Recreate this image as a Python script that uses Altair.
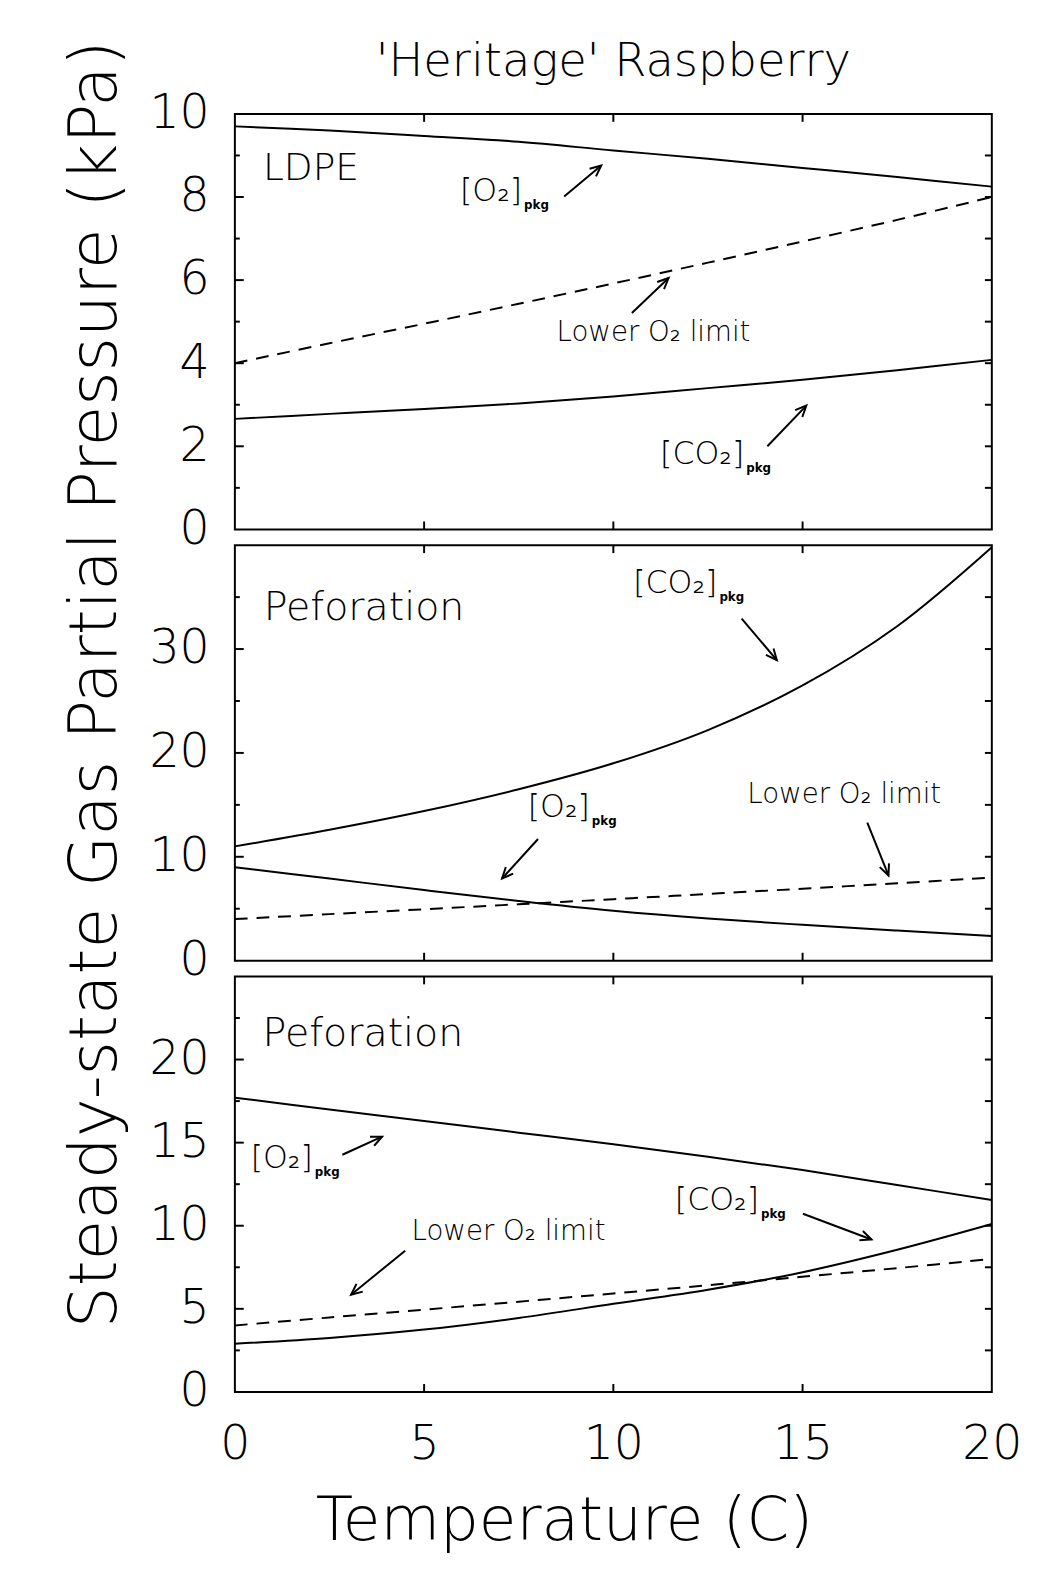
import math
import altair as alt
import pandas as pd

FONT = "DejaVu Sans"
FW = 200
W, H = 767, 421

# ---------------- data ----------------
temps = [0, 2.5, 5, 7.5, 10, 12.5, 15, 17.5, 20]
lower_o2_limit = [4.0, 4.48, 4.95, 5.43, 5.92, 6.42, 6.93, 7.45, 8.0]

ldpe_o2 = [9.7, 9.6, 9.47, 9.33, 9.12, 8.92, 8.7, 8.48, 8.25]
ldpe_co2 = [2.66, 2.78, 2.9, 3.03, 3.2, 3.4, 3.6, 3.83, 4.08]

perf1_o2 = [9.0, 7.9, 6.8, 5.75, 4.8, 4.05, 3.45, 2.9, 2.38]
perf1_co2 = [11.0, 12.6, 14.4, 16.5, 19.0, 22.2, 26.5, 32.2, 39.8]

perf2_o2 = [17.7, 17.0, 16.3, 15.6, 14.9, 14.15, 13.35, 12.45, 11.55]
perf2_co2 = [2.9, 3.25, 3.75, 4.45, 5.3, 6.15, 7.2, 8.55, 10.1]

x_ticks = [5, 10, 15]
x_labels = [0, 5, 10, 15, 20]

ldpe_ylabels = [0, 2, 4, 6, 8, 10]
ldpe_major = [2, 4, 6, 8]
ldpe_minor = [1, 3, 5, 7, 9]
ldpe_right = [1, 2, 3, 4, 5, 6, 7, 8, 9]

perf1_ylabels = [0, 10, 20, 30]
perf1_major = [10, 20, 30]
perf1_minor = [5, 15, 25, 35]
perf1_right = [5, 10, 15, 20, 25, 30, 35]

perf2_ylabels = [0, 5, 10, 15, 20]
perf2_major = [5, 10, 15, 20]
perf2_minor = [2.5, 7.5, 12.5, 17.5, 22.5]
perf2_right = [2.5, 5, 7.5, 10, 12.5, 15, 17.5, 20, 22.5]

# panel name labels: (text, x, y)
ldpe_name = ("LDPE", 0.74, 8.66)
perf1_name = ("Peforation", 0.76, 33.95)
perf2_name = ("Peforation", 0.73, 21.53)

# bracket labels: (text, x of right end, y)
ldpe_brackets = [("[O\u2082]", 7.59, 8.14), ("[CO\u2082]", 13.46, 1.81)]
perf1_brackets = [("[CO\u2082]", 12.75, 36.34), ("[O\u2082]", 9.38, 14.75)]
perf2_brackets = [("[O\u2082]", 2.06, 14.07), ("[CO\u2082]", 13.85, 11.56)]

# "Lower O2 limit" label centre
ldpe_limit_lbl = (11.06, 4.73)
perf1_limit_lbl = (16.1, 15.95)
perf2_limit_lbl = (7.23, 9.62)

# arrows: (x tail, y tail, x head, y head)
ldpe_arrows = [(8.7, 8.01, 9.68, 8.76), (10.49, 5.21, 11.46, 6.05), (14.07, 2.0, 15.1, 2.98)]
perf1_arrows = [(13.39, 32.93, 14.32, 28.93), (8.01, 11.71, 7.06, 7.91), (16.71, 13.28, 17.27, 8.2)]
perf2_arrows = [(2.84, 14.27, 3.89, 15.36), (4.5, 8.5, 3.07, 5.85), (15.01, 10.72, 16.82, 9.17)]


def panel(ymax, o2, co2, ylabels, major, minor, right, name, brackets, limit_lbl,
          arrows, bottom=False, ytitle=False, name_size=40):
    xs = alt.Scale(domain=[0, 20], nice=False, zero=False)
    ys = alt.Scale(domain=[0, ymax], nice=False)

    ykw = dict(values=ylabels, ticks=False, domain=False, grid=False,
               labelFontSize=48, labelPadding=26, format="d", labelOverlap=False)
    if ytitle:
        ykw.update(title="Steady-state Gas Partial Pressure (kPa)",
                   titleFontSize=67, titlePadding=20, titleY=H / 2 - 70)
    else:
        ykw.update(title=None)
    yaxis = alt.Axis(**ykw)
    if bottom:
        xaxis = alt.Axis(values=x_labels, ticks=False, domain=False, grid=False,
                         labelFontSize=48, labelPadding=29, labelFlush=False,
                         format="d", title="Temperature (C)", titleFontSize=62,
                         titlePadding=24, titleX=W / 2 - 50)
    else:
        xaxis = None

    def X(f):
        return alt.X(f, scale=xs, axis=xaxis)

    def Y(f):
        return alt.Y(f, scale=ys, axis=yaxis)

    df = pd.DataFrame({"T": temps * 2, "value": o2 + co2,
                       "series": ["O2"] * len(temps) + ["CO2"] * len(temps)})
    lines = alt.Chart(df).mark_line(color="black", strokeWidth=2, interpolate="catmull-rom").encode(
        x=X("T:Q"), y=Y("value:Q"), detail="series:N")
    lim = alt.Chart(pd.DataFrame({"T": temps, "value": lower_o2_limit})).mark_line(
        color="black", strokeWidth=2, strokeDash=[13, 9], interpolate="catmull-rom").encode(
        x=X("T:Q"), y=Y("value:Q"))

    def yticks(vals, x0, x1):
        return alt.Chart(pd.DataFrame({"value": vals})).mark_rule(color="black", strokeWidth=2).encode(
            y=Y("value:Q"), x=alt.value(x0), x2=alt.value(x1))

    def xticks(y0, y1):
        return alt.Chart(pd.DataFrame({"T": x_ticks})).mark_rule(color="black", strokeWidth=2).encode(
            x=X("T:Q"), y=alt.value(y0), y2=alt.value(y1))

    layers = [lines, lim,
              yticks(major, 0, 9), yticks(minor, 0, 5), yticks(right, W - 7, W),
              xticks(0, 8), xticks(H - 8, H)]

    nm = alt.Chart(pd.DataFrame({"T": [name[1]], "value": [name[2]], "t": [name[0]]})).mark_text(
        align="left", baseline="middle", font=FONT, fontSize=name_size, fontWeight=FW,
        color="black").encode(x=X("T:Q"), y=Y("value:Q"), text="t:N")
    layers.append(nm)

    bdf = pd.DataFrame({"t": [b[0] for b in brackets], "T": [b[1] for b in brackets],
                        "value": [b[2] for b in brackets], "s": ["pkg"] * len(brackets)})
    br = alt.Chart(bdf).mark_text(align="right", baseline="middle", font=FONT, fontSize=32,
                                  fontWeight=FW, color="black").encode(
        x=X("T:Q"), y=Y("value:Q"), text="t:N")
    pk = alt.Chart(bdf).mark_text(align="left", baseline="middle", font=FONT, fontSize=12,
                                  fontWeight="bold", color="black", dx=2, dy=14).encode(
        x=X("T:Q"), y=Y("value:Q"), text="s:N")
    layers += [br, pk]

    lt = alt.Chart(pd.DataFrame({"T": [limit_lbl[0]], "value": [limit_lbl[1]],
                                 "t": ["Lower O\u2082 limit"]})).mark_text(
        align="center", baseline="middle", font=FONT, fontSize=28, fontWeight=FW,
        color="black").encode(x=X("T:Q"), y=Y("value:Q"), text="t:N")
    layers.append(lt)

    adf = pd.DataFrame({"T": [a[0] for a in arrows], "value": [a[1] for a in arrows],
                        "T2": [a[2] for a in arrows], "value2": [a[3] for a in arrows]})
    adf["angle"] = [
        math.degrees(math.atan2(-(a[3] - a[1]) * H / ymax, (a[2] - a[0]) * W / 20.0)) % 360
        for a in arrows]
    shaft = alt.Chart(adf).mark_rule(color="black", strokeWidth=2).encode(
        x=X("T:Q"), y=Y("value:Q"), x2="T2:Q", y2="value2:Q")
    head = alt.Chart(adf).mark_point(shape="M-1,-0.45L0,0L-1,0.45", filled=False,
                                     color="black", strokeWidth=2, size=500, opacity=1).encode(
        x=X("T2:Q"), y=Y("value2:Q"), angle=alt.Angle("angle:Q", scale=None))
    layers += [shaft, head]

    return alt.layer(*layers).properties(width=W, height=H)


p1 = panel(10, ldpe_o2, ldpe_co2, ldpe_ylabels, ldpe_major, ldpe_minor, ldpe_right,
           ldpe_name, ldpe_brackets, ldpe_limit_lbl, ldpe_arrows, name_size=38)
p2 = panel(40, perf1_o2, perf1_co2, perf1_ylabels, perf1_major, perf1_minor, perf1_right,
           perf1_name, perf1_brackets, perf1_limit_lbl, perf1_arrows, ytitle=True)
p3 = panel(25, perf2_o2, perf2_co2, perf2_ylabels, perf2_major, perf2_minor, perf2_right,
           perf2_name, perf2_brackets, perf2_limit_lbl, perf2_arrows, bottom=True)

chart = alt.vconcat(p1, p2, p3, spacing=16, bounds="flush").properties(
    title=alt.TitleParams(text="'Heritage' Raspberry", fontSize=47, font=FONT,
                          fontWeight=FW, anchor="middle", frame="group",
                          offset=2, dy=50, color="black"),
    padding={"left": 61, "top": 28, "right": 30, "bottom": 6},
).configure_view(stroke="black", strokeWidth=2).configure_axis(
    labelFont=FONT, titleFont=FONT, labelColor="black", titleColor="black",
    labelFontWeight=FW, titleFontWeight=FW)

chart.save("out.html", embed_options={"renderer": "svg", "actions": False})
